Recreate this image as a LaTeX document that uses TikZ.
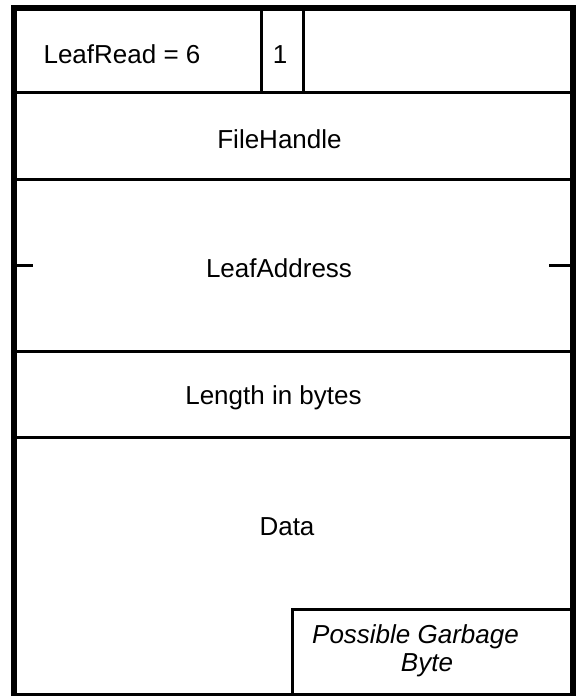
\documentclass[tikz,border=0pt]{standalone}
\usepackage{fontspec}
\setmainfont{Liberation Sans}
\begin{document}
\begin{tikzpicture}[x=1pt,y=-1pt,
  thick border/.style={line width=6pt},
  thin border/.style={line width=3pt},
  lbl/.style={anchor=base,inner sep=0pt,font=\fontsize{26}{28}\selectfont},
  ilbl/.style={lbl,font=\fontsize{26}{28}\selectfont\itshape,align=center}]
\useasboundingbox (0,0) rectangle (578,696);
% internal lines
\draw[thin border] (14,92.5) -- (573,92.5);
\draw[thin border] (14,179.5) -- (573,179.5);
\draw[thin border] (14,351.5) -- (573,351.5);
\draw[thin border] (14,437.5) -- (573,437.5);
\draw[thin border] (261,8) -- (261,92.5);
\draw[thin border] (303.5,8) -- (303.5,92.5);
% ticks
\draw[thin border] (14,265) -- (33,265);
\draw[thin border] (549,265) -- (573,265);
% garbage box
\draw[thin border] (292.5,696) -- (292.5,609.5) -- (573,609.5);
% outer frame
\draw[thick border] (14,8) rectangle (573,696);
% labels
\node[lbl] (leafread) at (122,63) {LeafRead = 6};
\node[lbl] (one) at (280,63) {1};
\node[lbl] (fh) at (279.5,148) {FileHandle};
\node[lbl] (la) at (279,277) {LeafAddress};
\node[lbl] (len) at (273.5,404) {Length in bytes};
\node[lbl] (data) at (287,535) {Data};
\node[ilbl] (pg) at (415.5,643) {Possible Garbage};
\node[ilbl] (byte) at (427,671) {Byte};
\end{tikzpicture}
\end{document}
